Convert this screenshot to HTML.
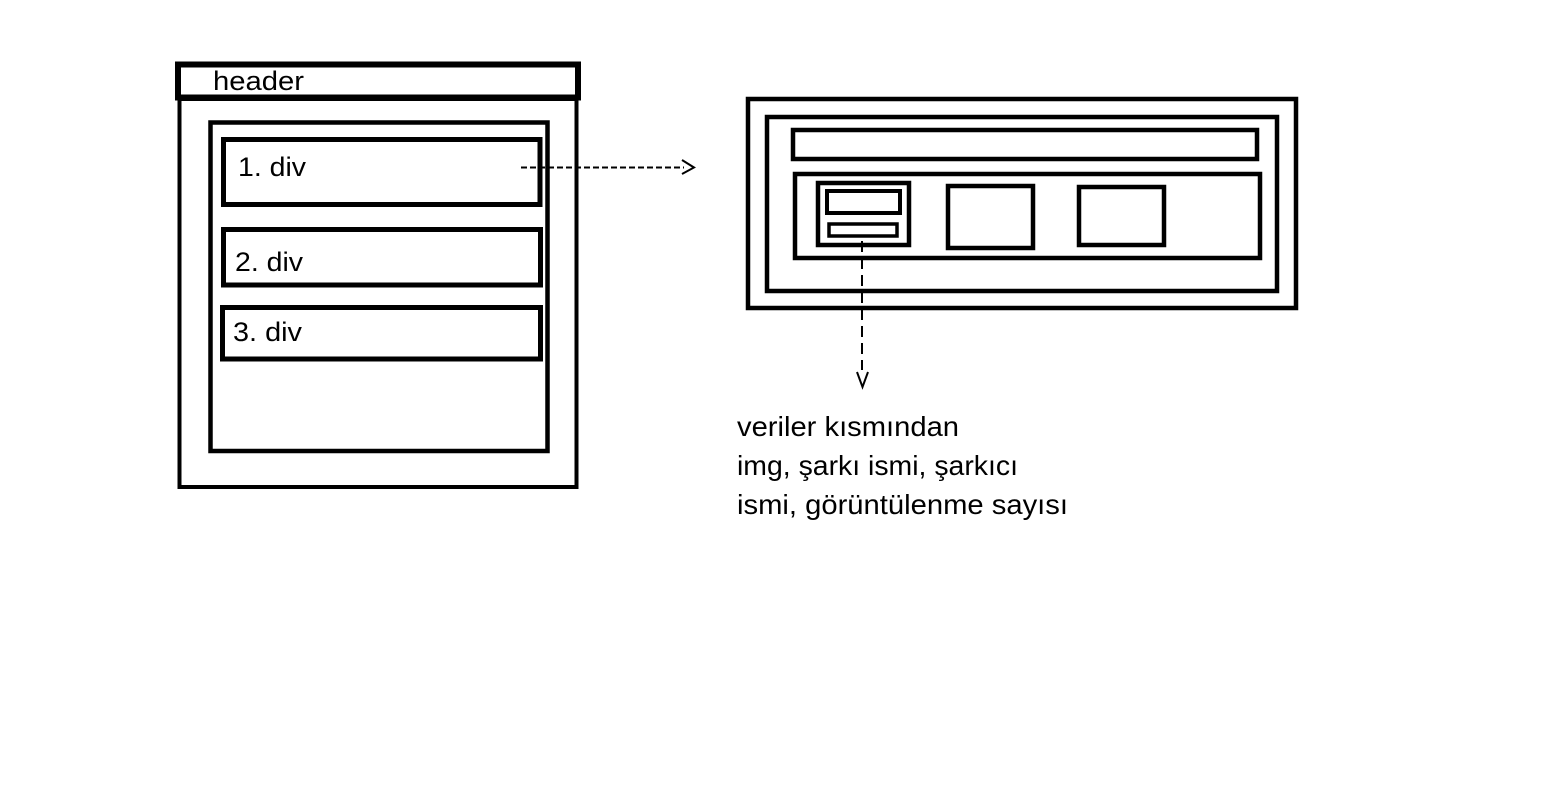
<!DOCTYPE html>
<html><head><meta charset="utf-8"><style>
html,body{margin:0;padding:0;background:#fff;}
svg{display:block;}
text{font-family:"Liberation Sans",sans-serif;fill:#000;}
</style></head><body>
<svg width="1549" height="793" viewBox="0 0 1549 793" xmlns="http://www.w3.org/2000/svg">
<g fill="none" stroke="#000">
  <rect x="179.5" y="99" width="397" height="388" stroke-width="4"/>
  <rect x="178" y="64.5" width="400" height="33" stroke-width="6"/>
  <rect x="210.5" y="122.5" width="337" height="328.5" stroke-width="4.5"/>
  <rect x="223.5" y="139.5" width="316.5" height="65" stroke-width="5"/>
  <rect x="223.5" y="229.5" width="317" height="55.5" stroke-width="5"/>
  <rect x="222.5" y="307.5" width="318" height="51.5" stroke-width="5"/>
  <rect x="748" y="99" width="548" height="209" stroke-width="4.5"/>
  <rect x="767" y="117" width="510" height="174" stroke-width="4.5"/>
  <rect x="793" y="130" width="464" height="29" stroke-width="4.5"/>
  <rect x="795" y="174" width="465" height="84" stroke-width="4.5"/>
  <rect x="818" y="183" width="91" height="62" stroke-width="4.5"/>
  <rect x="827" y="191" width="73" height="22" stroke-width="4"/>
  <rect x="829" y="224" width="68" height="12" stroke-width="3.5"/>
  <rect x="948" y="186" width="85" height="62" stroke-width="4.5"/>
  <rect x="1079" y="187" width="85" height="58" stroke-width="4.5"/>
  <line x1="521" y1="167.5" x2="684" y2="167.5" stroke-width="2" stroke-dasharray="6,3"/>
  <polyline points="682,160 694,167.5 682,174" stroke-width="2"/>
  <line x1="862" y1="241" x2="862" y2="370" stroke-width="2" stroke-dasharray="11,6"/>
  <polyline points="857,372 862.5,387 868,372" stroke-width="2"/>
</g>
<text x="213" y="90" font-size="27" textLength="91" lengthAdjust="spacingAndGlyphs">header</text>
<text x="238" y="176" font-size="27" textLength="68" lengthAdjust="spacingAndGlyphs">1. div</text>
<text x="235" y="271" font-size="27" textLength="68" lengthAdjust="spacingAndGlyphs">2. div</text>
<text x="233" y="341" font-size="27" textLength="69" lengthAdjust="spacingAndGlyphs">3. div</text>
<text x="737" y="436" font-size="28" textLength="222" lengthAdjust="spacingAndGlyphs">veriler kısmından</text>
<text x="737" y="475" font-size="28" textLength="281" lengthAdjust="spacingAndGlyphs">img, şarkı ismi, şarkıcı</text>
<text x="737" y="514" font-size="28" textLength="331" lengthAdjust="spacingAndGlyphs">ismi, görüntülenme sayısı</text>
</svg>
</body></html>
